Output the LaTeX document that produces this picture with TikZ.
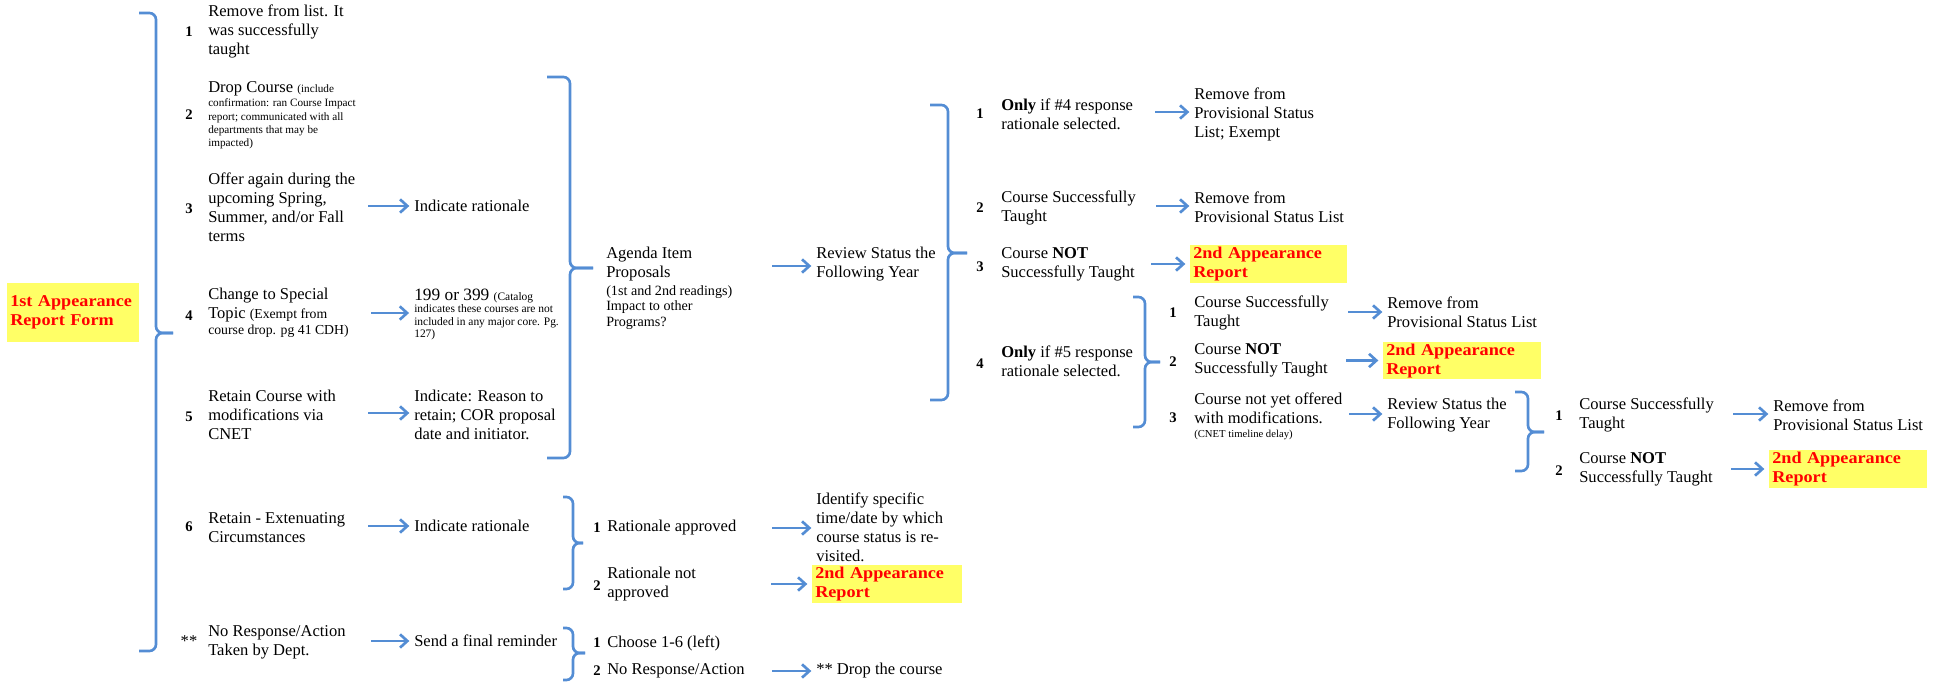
\documentclass[tikz,border=0pt]{standalone}
\usepackage{fontspec}
\setmainfont{Liberation Serif}
\newfontfamily\widefont{Liberation Serif}[FakeStretch=1.1]
\usetikzlibrary{arrows.meta,fit}
\definecolor{brblue}{RGB}{84,141,212}
\definecolor{boxyellow}{RGB}{255,255,102}
\definecolor{boxred}{RGB}{255,0,0}
\newcommand\mainsz{\fontsize{12.4}{14.25}\selectfont}
\newcommand\smallsz{\fontsize{8.4}{10}\selectfont}
\newcommand\midsz{\fontsize{10.3}{12}\selectfont}
\newcommand\bluebrace[6]{%
  \draw[brk] (#1,#4) -- (#2,#4) -- (#2,#5) -- (#3,#5);
  \draw[brk] (#1,#6) -- (#2,#6) -- (#2,#5) -- (#3,#5);}
\begin{document}
\begin{tikzpicture}[x=0.75pt,y=-0.75pt,
  t/.style={anchor=west,align=left,inner sep=0pt,font=\mainsz},
  sm/.style={anchor=west,align=left,inner sep=0pt,font=\smallsz},
  num/.style={inner sep=0pt,font=\bfseries\fontsize{11}{12}\selectfont},
  rep/.style={anchor=north west,fill=boxyellow,text=boxred,font=\widefont\bfseries\mainsz,
    align=left,inner xsep=2.25pt,inner ysep=0pt,minimum height=28.5pt,text width=#1},
  brk/.style={draw=brblue,line width=2pt,rounded corners=5pt},
  arr/.style={draw=brblue,line width=2pt,-{Straight Barb[length=5.5pt,width=10pt]},shorten >=3.5pt}]
\useasboundingbox (0,0) rectangle (1947,684);

% ---------- first form ----------
\node[rep=94.5pt,minimum height=44.25pt] (form) at (7,283) {1st Appearance\\Report Form};
\bluebrace{139}{156}{173}{13}{333}{651}

% ---------- column 1 ----------
\node[num] (k1) at (189,32) {1};
\node[t] (c1) at (208,31) {Remove from list. It\\was successfully\\taught};
\node[num] (k2) at (189,115) {2};
\node[t] (c2a) at (208,89) {Drop Course {\smallsz(include}};
\node[sm] (c2b) at (208,124) {confirmation: ran Course Impact\\report; communicated with all\\departments that may be\\impacted)};
\node[num] (k3) at (189,209) {3};
\node[t] (c3) at (208,207.5) {Offer again during the\\upcoming Spring,\\Summer, and/or Fall\\terms};
\node[num] (k4) at (189,316) {4};
\node[t] (c4a) at (208,305.5) {Change to Special\\Topic {\midsz(Exempt from}};
\node[t,font=\midsz] (c4b) at (208,331) {course drop. pg 41 CDH)};
\node[num] (k5) at (189,417) {5};
\node[t] (c5) at (208,414.5) {Retain Course with\\modifications via\\CNET};
\node[num] (k6) at (189,527) {6};
\node[t] (c6) at (208,527.5) {Retain - Extenuating\\Circumstances};
\node[inner sep=0pt,font=\mainsz] (k7) at (189,641) {**};
\node[t] (c7) at (208,642.5) {No Response/Action\\Taken by Dept.};

% ---------- column 2 ----------
\node[t] (ind3) at (414,206) {Indicate rationale};
\coordinate (s3) at (368,206);
\draw[arr] (s3) -- (s3 -| ind3.west);
\node[t,font=\fontsize{13}{14}\selectfont] (cat1) at (414,296) {199 or 399 {\fontsize{8.6}{10}\selectfont(Catalog}};
\node[sm,font=\fontsize{8.6}{9.4}\selectfont] (cat2) at (414,322.5) {indicates these courses are not\\included in any major core. Pg.\\127)};
\node[fit=(cat1)(cat2),inner sep=0pt] (cat) {};
\coordinate (s4) at (371,313);
\draw[arr] (s4) -- (s4 -| cat.west);
\node[t] (ind5) at (414,414.5) {Indicate: Reason to\\retain; COR proposal\\date and initiator.};
\coordinate (s5) at (368,413);
\draw[arr] (s5) -- (s5 -| ind5.west);
\node[t] (ind6) at (414,526) {Indicate rationale};
\coordinate (s6) at (368,526);
\draw[arr] (s6) -- (s6 -| ind6.west);
\node[t] (remind) at (414,641) {Send a final reminder};
\coordinate (s7) at (371,641);
\draw[arr] (s7) -- (s7 -| remind.west);

% ---------- agenda ----------
\bluebrace{547}{570}{593}{77}{268}{458}
\node[t] (ag1) at (606,264.5) {Agenda Item\\Proposals};
\node[t,font=\fontsize{10.6}{11.6}\selectfont] (ag2) at (606,307.5) {(1st and 2nd readings)\\Impact to other\\Programs?};
\node[t] (rev1) at (816,264.5) {Review Status the\\Following Year};
\coordinate (sa) at (772,266);
\draw[arr] (sa) -- (sa -| rev1.west);

% ---------- review bracket ----------
\bluebrace{930}{948}{967}{105}{253}{400}
\node[num] (m1) at (980,114) {1};
\node[num] (m2) at (980,208) {2};
\node[num] (m3) at (980,267) {3};
\node[num] (m4) at (980,364) {4};
\node[t] (o1) at (1001,114.5) {\textbf{Only} if \#4 response\\rationale selected.};
\node[t] (o2) at (1001,207.5) {Course Successfully\\Taught};
\node[t] (o3) at (1001,264) {Course \textbf{NOT}\\Successfully Taught};
\node[t] (o4) at (1001,361.5) {\textbf{Only} if \#5 response\\rationale selected.};
\node[t] (r1) at (1194,114.5) {Remove from\\Provisional Status\\List; Exempt};
\coordinate (so1) at (1155,112);
\draw[arr] (so1) -- (so1 -| r1.west);
\node[t] (r2) at (1194,207.5) {Remove from\\Provisional Status List};
\coordinate (so2) at (1156,206);
\draw[arr] (so2) -- (so2 -| r2.west);
\node[rep=113.25pt] (b1) at (1190,245) {2nd Appearance\\Report};
\coordinate (so3) at (1151,264);
\draw[arr] (so3) -- (so3 -| b1.west);

% ---------- #5 bracket ----------
\bluebrace{1133}{1145}{1160}{297}{362}{427}
\node[num] (p1k) at (1173,313) {1};
\node[num] (p2k) at (1173,362) {2};
\node[num] (p3k) at (1173,418) {3};
\node[t] (p1) at (1194,312.5) {Course Successfully\\Taught};
\node[t] (p2) at (1194,360.5) {Course \textbf{NOT}\\Successfully Taught};
\node[t] (p3) at (1194,408) {Course not yet offered\\with modifications.};
\node[sm,font=\fontsize{8}{10}\selectfont] (p3b) at (1194,435) {(CNET timeline delay)};
\node[t] (q1) at (1387,312.5) {Remove from\\Provisional Status List};
\coordinate (sp1) at (1348,312);
\draw[arr] (sp1) -- (sp1 -| q1.west);
\node[rep=114pt,minimum height=27.75pt] (b2) at (1383,342) {2nd Appearance\\Report};
\coordinate (sp2) at (1346,360.5);
\draw[arr] (sp2) -- (sp2 -| b2.west);
\node[t] (rev2) at (1387,415.5) {Review Status the\\Following Year};
\coordinate (sp3) at (1349,414);
\draw[arr] (sp3) -- (sp3 -| rev2.west);

% ---------- last bracket ----------
\bluebrace{1515}{1528}{1544}{392}{432}{471}
\node[num] (s1k) at (1559,416) {1};
\node[num] (s2k) at (1559,471) {2};
\node[t] (s1) at (1579,415) {Course Successfully\\Taught};
\node[t] (s2) at (1579,469.5) {Course \textbf{NOT}\\Successfully Taught};
\node[t] (u1) at (1773,415) {Remove from\\Provisional Status List};
\coordinate (ss1) at (1733,414);
\draw[arr] (ss1) -- (ss1 -| u1.west);
\node[rep=114pt] (b3) at (1769,450) {2nd Appearance\\Report};
\coordinate (ss2) at (1731,469);
\draw[arr] (ss2) -- (ss2 -| b3.west);

% ---------- rationale bracket ----------
\bluebrace{563}{573}{583}{497}{543}{589}
\node[num] (ra1k) at (597,528) {1};
\node[num] (ra2k) at (597,586) {2};
\node[t] (ra1) at (607,528) {Rationale approved};
\node[t] (ra2) at (607,584.5) {Rationale not\\approved};
\node[t] (idt) at (816,527.5) {Identify specific\\time/date by which\\course status is re-\\visited.};
\coordinate (sr1) at (772,528);
\draw[arr] (sr1) -- (sr1 -| idt.west);
\node[rep=108pt] (b4) at (812,565) {2nd Appearance\\Report};
\coordinate (sr2) at (771,584);
\draw[arr] (sr2) -- (sr2 -| b4.west);

% ---------- reminder bracket ----------
\bluebrace{563}{573}{585}{628}{653}{680}
\node[num] (ch1k) at (597,643) {1};
\node[num] (ch2k) at (597,671) {2};
\node[t] (ch1) at (607,643) {Choose 1-6 (left)};
\node[t] (ch2) at (607,671) {No Response/Action};
\node[t] (drop) at (816,671) {** Drop the course};
\coordinate (sd) at (772,671);
\draw[arr] (sd) -- (sd -| drop.west);
\end{tikzpicture}
\end{document}
